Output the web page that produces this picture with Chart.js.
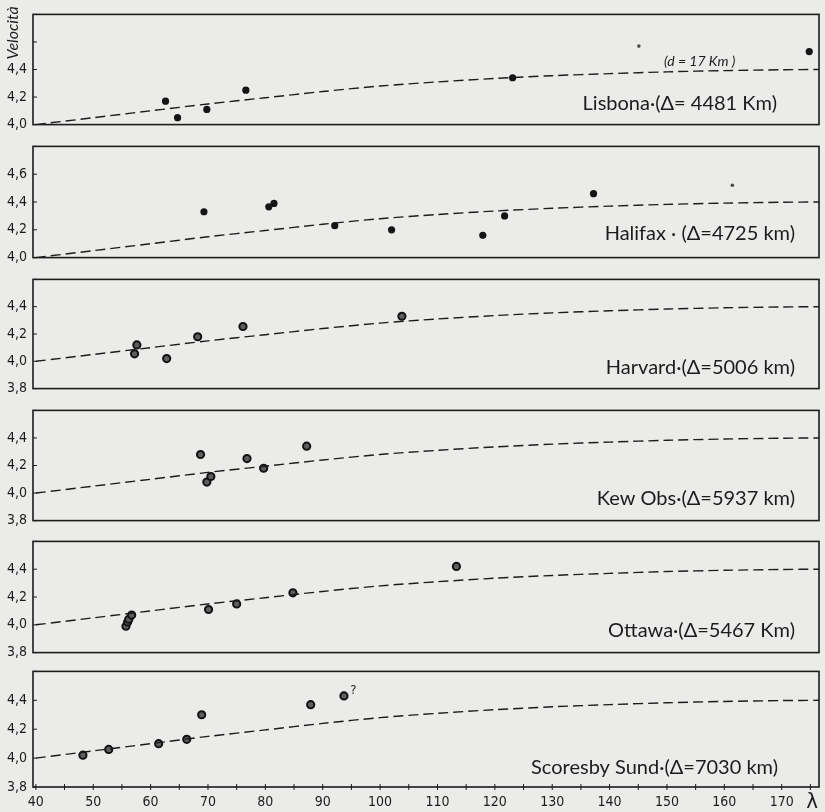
<!DOCTYPE html>
<html>
<head>
<meta charset="utf-8">
<script src="https://cdn.jsdelivr.net/npm/chart.js@4/dist/chart.umd.min.js"></script>
<style>
  body { margin: 0; background: #ebebea; }
  #wrap { position: relative; width: 825px; height: 812px; overflow: hidden; }
  .panel { position: absolute; left: 0; width: 825px; }
</style>
</head>
<body>
<div id="wrap"></div>
<script>
// theoretical dispersion curve (same in every panel)
const curveLambda = [40, 50, 60, 70, 80, 90, 100, 110, 120, 130, 140, 150, 160, 170, 176.5];
const curveVel = [4.00, 4.05, 4.10, 4.15, 4.195, 4.24, 4.28, 4.31, 4.335, 4.355, 4.37, 4.383, 4.392, 4.398, 4.40];

// observed values per station
const lisbonaLambda = [62.6, 64.7, 69.8, 76.6, 123.1, 174.8];
const lisbonaVel = [4.17, 4.05, 4.11, 4.25, 4.34, 4.53];
const lisbonaFaintLambda = [145.1];
const lisbonaFaintVel = [4.57];

const halifaxLambda = [69.3, 80.6, 81.5, 92.1, 102.0, 117.9, 121.7, 137.2];
const halifaxVel = [4.33, 4.365, 4.39, 4.23, 4.20, 4.16, 4.30, 4.46];
const halifaxFaintLambda = [161.4];
const halifaxFaintVel = [4.52];

const harvardLambda = [57.2, 57.6, 62.8, 68.2, 76.1, 103.8];
const harvardVel = [4.055, 4.12, 4.02, 4.18, 4.255, 4.33];

const kewLambda = [68.7, 69.8, 70.5, 76.8, 79.7, 87.2];
const kewVel = [4.28, 4.08, 4.12, 4.25, 4.18, 4.34];

const ottawaLambda = [55.7, 56.0, 56.2, 56.7, 70.1, 75.0, 84.8, 113.3];
const ottawaVel = [3.99, 4.02, 4.04, 4.07, 4.11, 4.15, 4.23, 4.42];

const scoresbyLambda = [48.2, 52.7, 61.4, 66.3, 68.9, 87.9, 93.7];
const scoresbyVel = [4.02, 4.06, 4.10, 4.13, 4.30, 4.37, 4.43];

// axes
const xTickValues = [40, 45, 50, 55, 60, 65, 70, 75, 80, 85, 90, 95, 100, 105, 110, 115, 120, 125, 130, 135, 140, 145, 150, 155, 160, 165, 170, 175];
const xLabelValues = [40, 50, 60, 70, 80, 90, 100, 110, 120, 130, 140, 150, 160, 170];
const yLabelsLisbona = [4.0, 4.2, 4.4];
const yLabelsHalifax = [4.0, 4.2, 4.4, 4.6];
const yLabelsLower = [3.8, 4.0, 4.2, 4.4];

const stations = [
  { label: 'Lisbona\u00B7(\u0394= 4481 Km)', lam: lisbonaLambda, vel: lisbonaVel, fLam: lisbonaFaintLambda, fVel: lisbonaFaintVel, min: 4.0, max: 4.8, yLabels: yLabelsLisbona, ring: false },
  { label: 'Halifax \u00B7 (\u0394=4725 km)', lam: halifaxLambda, vel: halifaxVel, fLam: halifaxFaintLambda, fVel: halifaxFaintVel, min: 4.0, max: 4.8, yLabels: yLabelsHalifax, ring: false },
  { label: 'Harvard\u00B7(\u0394=5006 km)', lam: harvardLambda, vel: harvardVel, fLam: [], fVel: [], min: 3.8, max: 4.6, yLabels: yLabelsLower, ring: true },
  { label: 'Kew Obs\u00B7(\u0394=5937 km)', lam: kewLambda, vel: kewVel, fLam: [], fVel: [], min: 3.8, max: 4.6, yLabels: yLabelsLower, ring: true },
  { label: 'Ottawa\u00B7(\u0394=5467 Km)', lam: ottawaLambda, vel: ottawaVel, fLam: [], fVel: [], min: 3.8, max: 4.6, yLabels: yLabelsLower, ring: true },
  { label: 'Scoresby Sund\u00B7(\u0394=7030 km)', lam: scoresbyLambda, vel: scoresbyVel, fLam: [], fVel: [], min: 3.8, max: 4.6, yLabels: yLabelsLower, ring: true }
];

// page placement of each plot box (pixels)
const boxes = [
  { top: 13, bottom: 129, labelRight: 42, labelUp: 21 },
  { top: 145, bottom: 262, labelRight: 24, labelUp: 24 },
  { top: 278, bottom: 393, labelRight: 24, labelUp: 21 },
  { top: 409, bottom: 525, labelRight: 24, labelUp: 22 },
  { top: 540, bottom: 657, labelRight: 24, labelUp: 22 },
  { top: 670, bottom: 787, labelRight: 41, labelUp: 19 }
];

const INK = '#1c1c1c';
const tickFont = "'Liberation Sans Narrow', 'DejaVu Sans Condensed', 'Roboto Condensed', sans-serif";
const labelFont = "Lato, 'Open Sans', sans-serif";

const fmt = v => v.toFixed(1).replace('.', ',');
const near = (a, b) => Math.abs(a - b) < 1e-6;

const framePlugin = {
  id: 'frame',
  beforeDatasetsDraw(chart, args, opts) {
    const { ctx, chartArea: a, scales } = chart;
    ctx.save();
    ctx.strokeStyle = INK;
    ctx.lineWidth = 1.6;
    ctx.strokeRect(a.left, a.top, a.width, a.height);
    ctx.lineWidth = 1;
    scales.y.ticks.forEach(t => {
      const y = scales.y.getPixelForValue(t.value);
      ctx.beginPath();
      ctx.moveTo(a.left, y);
      ctx.lineTo(a.left + 4, y);
      ctx.stroke();
    });
    if (opts.xTicks) {
      scales.x.ticks.forEach(t => {
        const x = scales.x.getPixelForValue(t.value);
        ctx.beginPath();
        ctx.moveTo(x, a.bottom - 3);
        ctx.lineTo(x, a.bottom + 3);
        ctx.stroke();
      });
    }
    ctx.restore();
  },
  afterDraw(chart, args, opts) {
    const { ctx, chartArea: a, scales } = chart;
    ctx.save();
    ctx.fillStyle = INK;
    ctx.font = '20px ' + labelFont;
    ctx.textAlign = 'right';
    ctx.textBaseline = 'middle';
    ctx.fillText(opts.station, a.right - opts.labelRight, a.bottom - opts.labelUp);
    (opts.notes || []).forEach(n => {
      ctx.font = n.font;
      ctx.textAlign = n.align || 'center';
      ctx.fillText(n.text, scales.x.getPixelForValue(n.x), scales.y.getPixelForValue(n.y));
    });
    if (opts.yTitle) {
      ctx.translate(13, 33);
      ctx.rotate(-Math.PI / 2);
      ctx.textAlign = 'center';
      ctx.font = 'italic 16px ' + labelFont;
      ctx.fillText(opts.yTitle, 0, 0);
    }
    ctx.restore();
  }
};

const wrap = document.getElementById('wrap');

stations.forEach((st, i) => {
  const box = boxes[i];
  const last = i === stations.length - 1;
  const padTop = 13;
  const padBottom = last ? 0 : 10;
  const axisH = last ? 812 - box.bottom : 0;
  const h = box.bottom - box.top + padTop + padBottom + axisH;

  const div = document.createElement('div');
  div.className = 'panel';
  div.style.top = (box.top - padTop) + 'px';
  div.style.height = h + 'px';
  const canvas = document.createElement('canvas');
  canvas.width = 825;
  canvas.height = h;
  div.appendChild(canvas);
  wrap.appendChild(div);

  const yTickValues = [];
  for (let k = 0; k <= Math.round((st.max - st.min) * 10); k++) yTickValues.push(+(st.min + k / 10).toFixed(1));

  const notes = [];
  if (i === 0) notes.push({ text: '(d = 17 Km )', x: 155.7, y: 4.46, font: 'italic 14px ' + labelFont });
  if (last) {
    notes.push({ text: '?', x: 94.8, y: 4.47, font: '13px ' + tickFont, align: 'left' });
    notes.push({ text: '\u03BB', x: 176.3, y: 3.8 - 0.105, font: '22px ' + tickFont, align: 'right' });
  }

  new Chart(canvas, {
    type: 'scatter',
    data: {
      datasets: [
        {
          type: 'line',
          data: curveLambda.map((x, j) => ({ x, y: curveVel[j] })),
          borderColor: INK,
          borderWidth: 1.4,
          borderDash: [10, 5],
          pointRadius: 0,
          tension: 0.3,
          fill: false
        },
        {
          data: st.lam.map((x, j) => ({ x, y: st.vel[j] })),
          pointRadius: 3.6,
          pointBorderWidth: st.ring ? 2 : 0,
          borderColor: '#111',
          backgroundColor: st.ring ? '#5e5e5e' : '#151515'
        },
        {
          data: st.fLam.map((x, j) => ({ x, y: st.fVel[j] })),
          pointRadius: 1.8,
          pointBorderWidth: 0,
          backgroundColor: '#4a4a4a'
        }
      ]
    },
    options: {
      responsive: false,
      animation: false,
      devicePixelRatio: 1,
      layout: { padding: { left: 0, right: 6, top: padTop, bottom: padBottom } },
      plugins: {
        legend: { display: false },
        tooltip: { enabled: false },
        frame: {
          station: st.label,
          labelRight: box.labelRight,
          labelUp: box.labelUp,
          xTicks: last,
          notes,
          yTitle: i === 0 ? 'Velocit\u00E0' : null
        }
      },
      scales: {
        x: {
          type: 'linear',
          min: 39.5,
          max: 176.5,
          display: last,
          afterBuildTicks: s => { s.ticks = xTickValues.map(v => ({ value: v })); },
          afterFit: s => { s.height = axisH; },
          grid: { display: false, drawTicks: false },
          border: { display: false },
          ticks: {
            autoSkip: false,
            maxRotation: 0,
            padding: 7,
            color: INK,
            font: { family: tickFont, size: 14 },
            callback: v => xLabelValues.some(l => near(l, v)) ? String(v) : ''
          }
        },
        y: {
          min: st.min,
          max: st.max,
          afterBuildTicks: s => { s.ticks = yTickValues.map(v => ({ value: v })); },
          afterFit: s => { s.width = 33; },
          grid: { display: false, drawTicks: false },
          border: { display: false },
          ticks: {
            padding: 6,
            color: INK,
            font: { family: tickFont, size: 14 },
            callback: v => st.yLabels.some(l => near(l, v)) ? fmt(v) : ''
          }
        }
      }
    },
    plugins: [framePlugin]
  });
});
</script>
</body>
</html>
